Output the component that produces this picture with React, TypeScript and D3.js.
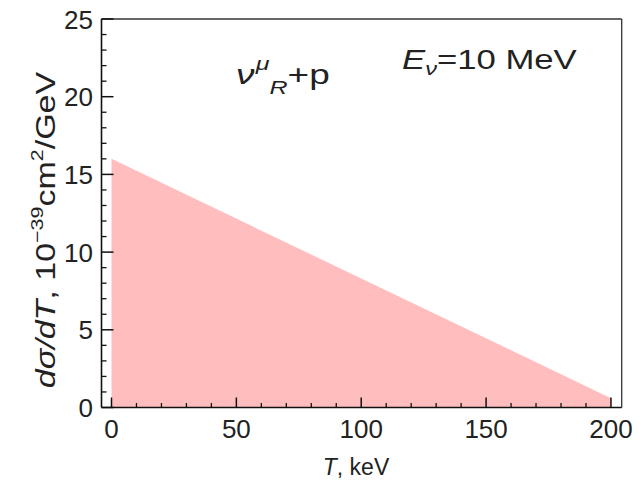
import React from "react";
import * as d3 from "d3";

// Differential cross section dσ/dT versus recoil energy T
const energyKeV = [0, 200];
const crossSection = [16.0, 0.6];

const xMajorTicks = [0, 50, 100, 150, 200];
const yMajorTicks = [0, 5, 10, 15, 20, 25];

const W = 643;
const H = 488;
const FONT = "'Liberation Sans', Arial, sans-serif";

export default function App() {
  const x = d3.scaleLinear().domain([-4, 204.3]).range([101.5, 621.7]);
  const y = d3.scaleLinear().domain([0, 25]).range([407.5, 19]);

  const pts = energyKeV.map((t, i) => [t, crossSection[i]] as [number, number]);
  const area = d3
    .area<[number, number]>()
    .x((d) => x(d[0]))
    .y0(() => y(0))
    .y1((d) => y(d[1]));

  const xMinor = d3.range(10, 200, 10).filter((v) => v % 50 !== 0);
  const yMinor = d3.range(1, 25, 1).filter((v) => v % 5 !== 0);

  const [x0, x1] = x.range();
  const [yb, yt] = y.range();

  return (
    <svg
      width={W}
      height={H}
      style={{ position: "absolute", left: 0, top: 0, background: "#fff" }}
      fontFamily={FONT}
    >
      <path d={area(pts) || ""} fill="#ffbdbd" />

      {/* frame */}
      <line x1={x0} x2={x1} y1={yt} y2={yt} stroke="#333" strokeWidth={1.3} />
      <line x1={x1} x2={x1} y1={yt} y2={yb} stroke="#333" strokeWidth={1.3} />
      <line x1={x0} x2={x0} y1={yt} y2={yb} stroke="#111" strokeWidth={1.6} />
      <line x1={x0} x2={x1} y1={yb} y2={yb} stroke="#111" strokeWidth={1.6} />

      {/* bottom ticks */}
      {xMajorTicks.map((v) => (
        <g key={"xm" + v}>
          <line x1={x(v)} x2={x(v)} y1={yb} y2={yb - 10} stroke="#111" strokeWidth={1.5} />
          <text x={x(v)} y={438} fontSize={26} textAnchor="middle" fill="#222">
            {v}
          </text>
        </g>
      ))}
      {xMinor.map((v) => (
        <line key={"xn" + v} x1={x(v)} x2={x(v)} y1={yb} y2={yb - 4.5} stroke="#111" strokeWidth={1.3} />
      ))}

      {/* left ticks */}
      {yMajorTicks.map((v) => (
        <g key={"ym" + v}>
          <line x1={x0} x2={x0 + 12} y1={y(v)} y2={y(v)} stroke="#111" strokeWidth={1.5} />
          <text x={93} y={y(v) + 9.5} fontSize={26} textAnchor="end" fill="#222">
            {v}
          </text>
        </g>
      ))}
      {yMinor.map((v) => (
        <line key={"yn" + v} x1={x0} x2={x0 + 5} y1={y(v)} y2={y(v)} stroke="#111" strokeWidth={1.3} />
      ))}

      {/* axis titles */}
      <text x={356} y={475} fontSize={23} textAnchor="middle" fill="#222">
        <tspan fontStyle="italic">T</tspan>
        <tspan>, keV</tspan>
      </text>
      <g transform="translate(55,230) rotate(-90) scale(1.26,1)">
        <text x={0} y={0} fontSize={27} textAnchor="middle" fill="#222">
          <tspan fontStyle="italic">dσ/dT</tspan>
          <tspan>, 10</tspan>
          <tspan fontSize={17} dy={-12}>−39</tspan>
          <tspan dy={12}>cm</tspan>
          <tspan fontSize={17} dy={-12}>2</tspan>
          <tspan dy={12}>/GeV</tspan>
        </text>
      </g>

      {/* annotations */}
      <g transform="translate(236,84) scale(1.32,1)">
        <text x={0} y={0} fontSize={28} fill="#222">
          <tspan fontStyle="italic">ν</tspan>
          <tspan fontSize={19} fontStyle="italic" dx={1} dy={-14}>μ</tspan>
          <tspan fontSize={19} fontStyle="italic" dy={24}>R</tspan>
          <tspan dy={-10}>+p</tspan>
        </text>
      </g>
      <g transform="translate(402,69) scale(1.24,1)">
        <text x={0} y={0} fontSize={28} fill="#222">
          <tspan fontStyle="italic">E</tspan>
          <tspan fontSize={19} fontStyle="italic" dy={6}>ν</tspan>
          <tspan dy={-6}>=10 MeV</tspan>
        </text>
      </g>
    </svg>
  );
}
